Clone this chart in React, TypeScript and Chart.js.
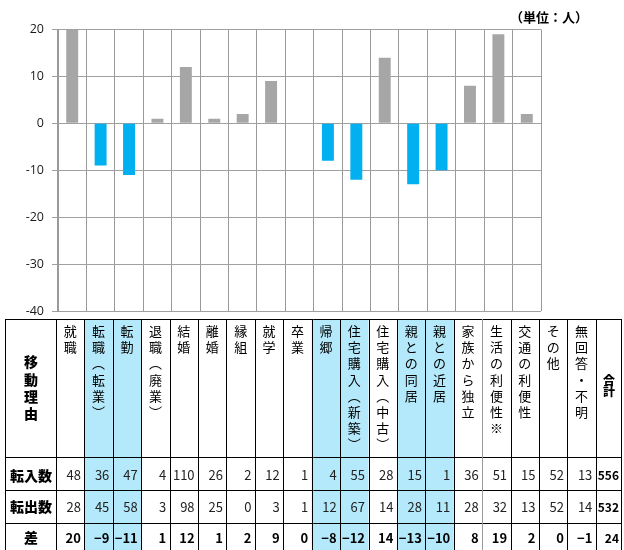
import React, { useEffect, useRef } from "react";
import { Chart, registerables } from "chart.js";

Chart.register(...registerables);

// ---- data ----
const reasons = [
  "就職", "転職（転業）", "転勤", "退職（廃業）", "結婚", "離婚", "縁組", "就学", "卒業", "帰郷",
  "住宅購入（新築）", "住宅購入（中古）", "親との同居", "親との近居", "家族から独立",
  "生活の利便性※", "交通の利便性", "その他", "無回答・不明",
];
const moveIn = [48, 36, 47, 4, 110, 26, 2, 12, 1, 4, 55, 28, 15, 1, 36, 51, 15, 52, 13];
const moveOut = [28, 45, 58, 3, 98, 25, 0, 3, 1, 12, 67, 14, 28, 11, 28, 32, 13, 52, 14];
const diff = [20, -9, -11, 1, 12, 1, 2, 9, 0, -8, -12, 14, -13, -10, 8, 19, 2, 0, -1];
const totals = [556, 532, 24];
const rowLabels = ["転入数", "転出数", "差"];
const headerLabel = "移動理由";
const totalLabel = "合計";
const unitLabel = "（単位：人）";
const highlighted = [1, 2, 9, 10, 12, 13];
const chartCategoryCount = 17;
const yMin = -40;
const yMax = 20;
const yStep = 10;

const GRAY = "#a6a6a6";
const BLUE = "#00b0f0";
const LIGHT_BLUE = "#b4e9fb";
const JP = "'Noto Sans CJK JP', sans-serif";

const chartLabels = reasons.slice(0, chartCategoryCount);
const chartValues = diff.slice(0, chartCategoryCount);

function toVertical(s: string): string[] {
  return Array.from(s.replace(/（/g, "︵").replace(/）/g, "︶"));
}

function fmt(v: number): string {
  return v < 0 ? "−" + Math.abs(v) : String(v);
}

const tablePlugin = {
  id: "tablePlugin",
  afterDraw(chart: any) {
    const ctx: CanvasRenderingContext2D = chart.ctx;
    const a = chart.chartArea;
    const colW = (a.right - a.left) / chartCategoryCount;
    const x0 = a.left - 2;
    const left = 5;
    const right = 622;
    const top = 319;
    const rowYs = [457, 490, 523, 551];
    const totalLeft = x0 + reasons.length * colW;

    ctx.save();
    // unit label
    ctx.fillStyle = "#000";
    ctx.font = `bold 13px ${JP}`;
    ctx.textAlign = "left";
    ctx.textBaseline = "middle";
    ctx.fillText(unitLabel, 510, 17);

    // highlight fills
    ctx.fillStyle = LIGHT_BLUE;
    highlighted.forEach((i) => {
      ctx.fillRect(x0 + i * colW, top, colW, 550 - top);
    });

    // lines
    ctx.strokeStyle = "#000";
    ctx.lineWidth = 1;
    const hline = (y: number) => {
      const yy = Math.round(y) + 0.5;
      ctx.strokeStyle = "#000";
      ctx.beginPath();
      ctx.moveTo(left, yy);
      ctx.lineTo(right, yy);
      ctx.stroke();
    };
    const vline = (x: number, color = "#000") => {
      const xx = Math.round(x) + 0.5;
      ctx.strokeStyle = color;
      ctx.beginPath();
      ctx.moveTo(xx, top);
      ctx.lineTo(xx, 550);
      ctx.stroke();
    };
    hline(top);
    rowYs.forEach((y) => hline(y));
    vline(left);
    for (let i = 0; i <= reasons.length; i++) {
      vline(x0 + i * colW, i === 15 ? "#999" : "#000");
    }
    vline(right - 1);

    // header texts (vertical)
    ctx.fillStyle = "#000";
    ctx.textAlign = "center";
    ctx.textBaseline = "middle";
    ctx.font = `13px ${JP}`;
    reasons.forEach((r, i) => {
      const cx = x0 + i * colW + colW / 2;
      toVertical(r).forEach((ch, k) => {
        ctx.fillText(ch, cx, 331 + k * 16.2);
      });
    });

    // left header label
    ctx.font = `900 14px ${JP}`;
    const hChars = Array.from(headerLabel);
    const hMid = (top + rowYs[0]) / 2;
    const labelCx = (left + x0) / 2 + 0.5;
    hChars.forEach((ch, k) => {
      ctx.fillText(ch, labelCx, hMid + (k - (hChars.length - 1) / 2) * 17.3);
    });
    // total header
    ctx.font = `900 12px ${JP}`;
    const tChars = Array.from(totalLabel);
    tChars.forEach((ch, k) => {
      ctx.fillText(ch, (totalLeft + right) / 2, hMid - 2 + (k - (tChars.length - 1) / 2) * 11);
    });

    // row labels
    ctx.font = `900 14px ${JP}`;
    const rowMids = [475.5, 507, 538];
    rowLabels.forEach((l, r) => {
      ctx.fillText(l, labelCx, rowMids[r]);
    });

    // numbers
    const rows = [moveIn, moveOut, diff];
    ctx.textAlign = "right";
    rows.forEach((vals, r) => {
      ctx.font = r === 2 ? `bold 13px ${JP}` : `13px ${JP}`;
      ctx.fillStyle = r === 2 ? "#000" : "#222";
      vals.forEach((v, i) => {
        ctx.fillText(fmt(v), x0 + (i + 1) * colW - 3.5, rowMids[r]);
      });
      ctx.font = `bold 12px ${JP}`;
      ctx.fillStyle = "#000";
      ctx.fillText(fmt(totals[r]), right - 3, rowMids[r]);
    });
    ctx.restore();
  },
};

export default function App() {
  const canvasRef = useRef<HTMLCanvasElement | null>(null);

  useEffect(() => {
    const canvas = canvasRef.current;
    if (!canvas) return;
    const chart = new Chart(canvas, {
      type: "bar",
      data: {
        labels: chartLabels,
        datasets: [
          {
            data: chartValues,
            backgroundColor: chartLabels.map((_, i) => (highlighted.includes(i) ? BLUE : GRAY)),
            borderWidth: 0,
            barPercentage: 0.42,
            categoryPercentage: 1,
          },
        ],
      },
      options: {
        animation: false,
        responsive: false,
        devicePixelRatio: 1,
        layout: { padding: { top: 29.5, right: 83, bottom: 239, left: 0 } },
        plugins: { legend: { display: false }, tooltip: { enabled: false } },
        scales: {
          x: {
            offset: true,
            ticks: { display: false },
            grid: { display: true, offset: true, color: "#9a9a9a", drawTicks: false },
            border: { display: false },
            afterFit: (s: any) => {
              s.height = 0;
            },
          },
          y: {
            min: yMin,
            max: yMax,
            ticks: {
              stepSize: yStep,
              padding: 8,
              color: "#1a1a1a",
              font: { family: "'Open Sans', sans-serif", size: 12.5 },
            },
            grid: { color: "#a0a0a0", tickLength: 6 },
            border: { display: true, color: "#9a9a9a" },
            afterFit: (s: any) => {
              s.width = 58;
            },
          },
        },
      },
      plugins: [tablePlugin],
    });
    return () => chart.destroy();
  }, []);

  return (
    <div style={{ position: "absolute", left: 0, top: 0, width: 624, height: 550, background: "#fff" }}>
      <canvas ref={canvasRef} width={624} height={550} style={{ display: "block", width: 624, height: 550 }} />
    </div>
  );
}
